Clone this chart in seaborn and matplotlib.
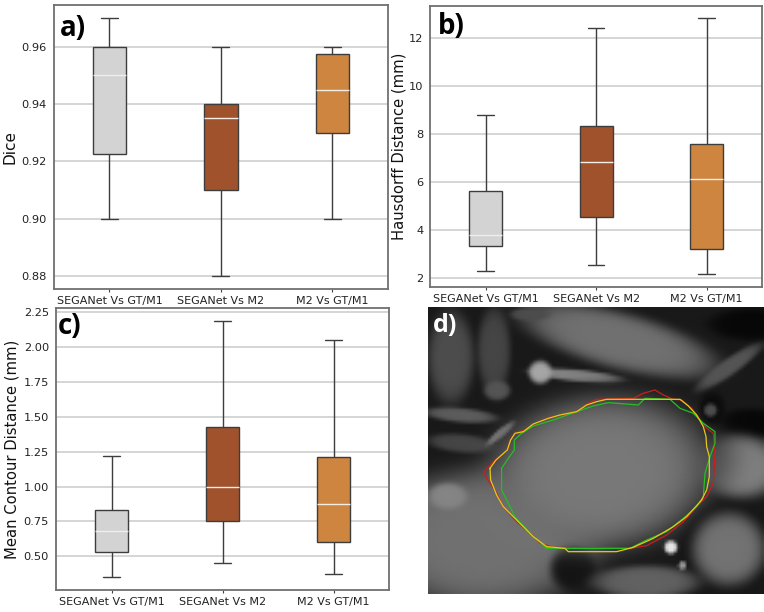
import numpy as np
import pandas as pd
import matplotlib
matplotlib.use("Agg")
import matplotlib.pyplot as plt
import seaborn as sns

W, H = 764, 612
categories = ["SEGANet Vs GT/M1", "SEGANet Vs M2", "M2 Vs GT/M1"]
colors = ["#D3D3D3", "#A0522D", "#CD853F"]

# five-number summaries: low whisker, Q1, median, Q3, high whisker
dice_a = [0.90, 0.9225, 0.95, 0.96, 0.97]
dice_b = [0.88, 0.91, 0.935, 0.94, 0.96]
dice_c = [0.90, 0.93, 0.945, 0.9575, 0.96]
hd_a = [2.3, 3.33, 3.78, 5.6, 8.8]
hd_b = [2.53, 4.55, 6.83, 8.33, 12.4]
hd_c = [2.15, 3.2, 6.1, 7.57, 12.8]
mcd_a = [0.35, 0.53, 0.68, 0.83, 1.22]
mcd_b = [0.455, 0.75, 0.995, 1.425, 2.19]
mcd_c = [0.375, 0.60, 0.875, 1.215, 2.05]

# contours of panel d, in the image's own coordinates
yellow_x = [210,228,262,272,285,310,340,385,420,470,500,530,560,670,780,805,830,850,858,860,868,868,860,845,800,760,700,640,590,445,435,380,340,300,250,230,212,210]
yellow_y = [505,480,450,420,400,395,372,355,345,335,315,305,298,298,298,318,345,380,410,440,470,530,570,600,650,680,715,742,755,755,745,740,710,670,620,585,540,505]
red_x = [193,215,240,265,268,285,315,350,390,440,480,500,530,640,670,705,730,760,785,815,840,860,880,885,880,860,830,790,740,680,630,400,360,340,290,250,225,200,193]
red_y = [515,490,470,445,425,400,390,368,352,342,330,312,298,295,280,270,285,298,300,325,360,385,400,460,550,590,620,665,705,737,745,742,730,708,665,620,570,535,515]
green_x = [245,265,283,283,305,340,400,470,520,565,655,675,750,780,820,850,885,885,870,855,850,830,790,740,680,630,380,340,285,245,245]
green_y = [505,475,450,420,400,378,360,335,318,308,315,295,298,325,340,370,395,430,470,520,590,620,655,695,720,745,745,710,650,570,505]

# soft painted layers of the MRI panel: centre x, y, radii, angle, grey level
layer_cx = [90,220,230,600,330,930,1000,1000,960,120,120,240,470,360,190,80,460,585,540,930,930,680,880,875,755,790]
layer_cy = [170,150,270,120,40,200,70,370,500,345,430,400,225,215,720,590,810,480,520,750,750,850,325,330,745,800]
layer_rx = [70,50,40,300,60,120,130,110,130,110,100,55,140,35,340,60,70,340,340,135,112,160,40,20,20,12]
layer_ry = [140,130,30,85,20,25,50,45,95,22,28,12,18,35,210,40,70,225,232,130,112,50,50,20,20,12]
layer_ang = [0,0,0,15,0,-35,0,0,5,5,5,-40,5,0,0,0,0,-6,-6,0,0,0,0,0,0,0]
layer_lvl = [.30,.27,.33,.44,.30,.33,.03,.03,.50,.36,.27,.50,.52,.65,.44,.52,.08,.10,.47,.05,.45,.38,.05,.30,.90,.60]

sns.set_theme(style="whitegrid")
plt.rcParams["font.family"] = "DejaVu Sans"
fig = plt.figure(figsize=(W / 100, H / 100), dpi=100, facecolor="white")


def axes_px(l, t, r, b):
    return fig.add_axes([l / W, 1 - b / H, (r - l) / W, (b - t) / H])


def box_panel(rect, series, ylim, ticks, fmt, ylabel, label_size, label_x, letter, letter_xy):
    ax = axes_px(*rect)
    df = pd.DataFrame({
        "group": np.repeat(categories, 5),
        "value": np.concatenate(series),
    })
    sns.boxplot(data=df, x="group", y="value", hue="group", palette=colors,
                order=categories, hue_order=categories, legend=False, width=0.3,
                whis=(0, 100), saturation=1, linecolor="#3d3d3d", linewidth=1.0,
                medianprops={"color": "#f3efe8", "linewidth": 1.0}, ax=ax, zorder=3)
    ax.set_xlim(-0.5, 2.5)
    ax.set_ylim(*ylim)
    ax.set_yticks(ticks)
    ax.set_yticklabels([fmt.format(t) for t in ticks])
    ax.set_xlabel("")
    ax.set_ylabel(ylabel, fontsize=label_size, color="#111111")
    ax.yaxis.set_label_coords((label_x - rect[0]) / (rect[2] - rect[0]), 0.5)
    ax.set_axisbelow(True)
    ax.grid(axis="y", color="#d2d2d2", linewidth=1.3)
    ax.grid(axis="x", visible=False)
    ax.tick_params(axis="both", labelsize=8.2, length=2.5, width=0.8, color="#444444",
                   labelcolor="#222222", pad=2.5, left=False)
    ax.tick_params(axis="x", labelsize=8.0, bottom=True)
    for s in ax.spines.values():
        s.set_color("#707070")
        s.set_linewidth(1.3)
    fig.text(letter_xy[0] / W, 1 - letter_xy[1] / H, letter, fontsize=20, fontweight="bold",
             family="Open Sans", color="black", ha="left", va="center")
    return ax


box_panel((53.7, 5, 388, 289), [dice_a, dice_b, dice_c], (0.8755, 0.9745),
          [0.88, 0.90, 0.92, 0.94, 0.96], "{:.2f}", "Dice", 11, 18, "a)", (60, 28))
box_panel((430.3, 5.7, 762, 287.3), [hd_a, hd_b, hd_c], (1.61, 13.33),
          [2, 4, 6, 8, 10, 12], "{:.0f}", "Hausdorff Distance (mm)", 10.6, 406, "b)", (438, 26))
box_panel((56, 308, 389, 590), [mcd_a, mcd_b, mcd_c], (0.258, 2.281),
          [0.50, 0.75, 1.00, 1.25, 1.50, 1.75, 2.00, 2.25], "{:.2f}",
          "Mean Contour Distance (mm)", 10.6, 20, "c)", (58, 327))

# panel d
axd = axes_px(428.3, 307.3, 764, 594)
xs = np.linspace(25, 1032, 112)
ys = np.linspace(22, 882, 96)
X, Y = np.meshgrid(xs, ys)
img = np.full(X.shape, 0.10)
for cx, cy, rx, ry, ang, lvl in zip(layer_cx, layer_cy, layer_rx, layer_ry, layer_ang, layer_lvl):
    t = np.deg2rad(ang)
    u = (X - cx) * np.cos(t) + (Y - cy) * np.sin(t)
    v = -(X - cx) * np.sin(t) + (Y - cy) * np.cos(t)
    m = np.exp(-((u / rx) ** 2 + (v / ry) ** 2) ** 3)
    img = img * (1 - m) + lvl * m
axd.imshow(img, cmap="gray", vmin=0, vmax=1, extent=(25, 1032, 882, 22),
           interpolation="bilinear", aspect="auto")
sns.lineplot(x=red_x, y=red_y, sort=False, estimator=None, color="#c81e1e", linewidth=0.9, ax=axd)
sns.lineplot(x=green_x, y=green_y, sort=False, estimator=None, color="#22c022", linewidth=0.9, ax=axd)
sns.lineplot(x=yellow_x, y=yellow_y, sort=False, estimator=None, color="#e6c818", linewidth=0.9, ax=axd)
axd.set_xlim(25, 1032)
axd.set_ylim(882, 22)
axd.axis("off")
fig.text(433 / W, 1 - 326 / H, "d)", fontsize=18, fontweight="bold", family="Open Sans",
         color="white", ha="left", va="center")

fig.savefig("out.png", dpi=100, facecolor="white")
